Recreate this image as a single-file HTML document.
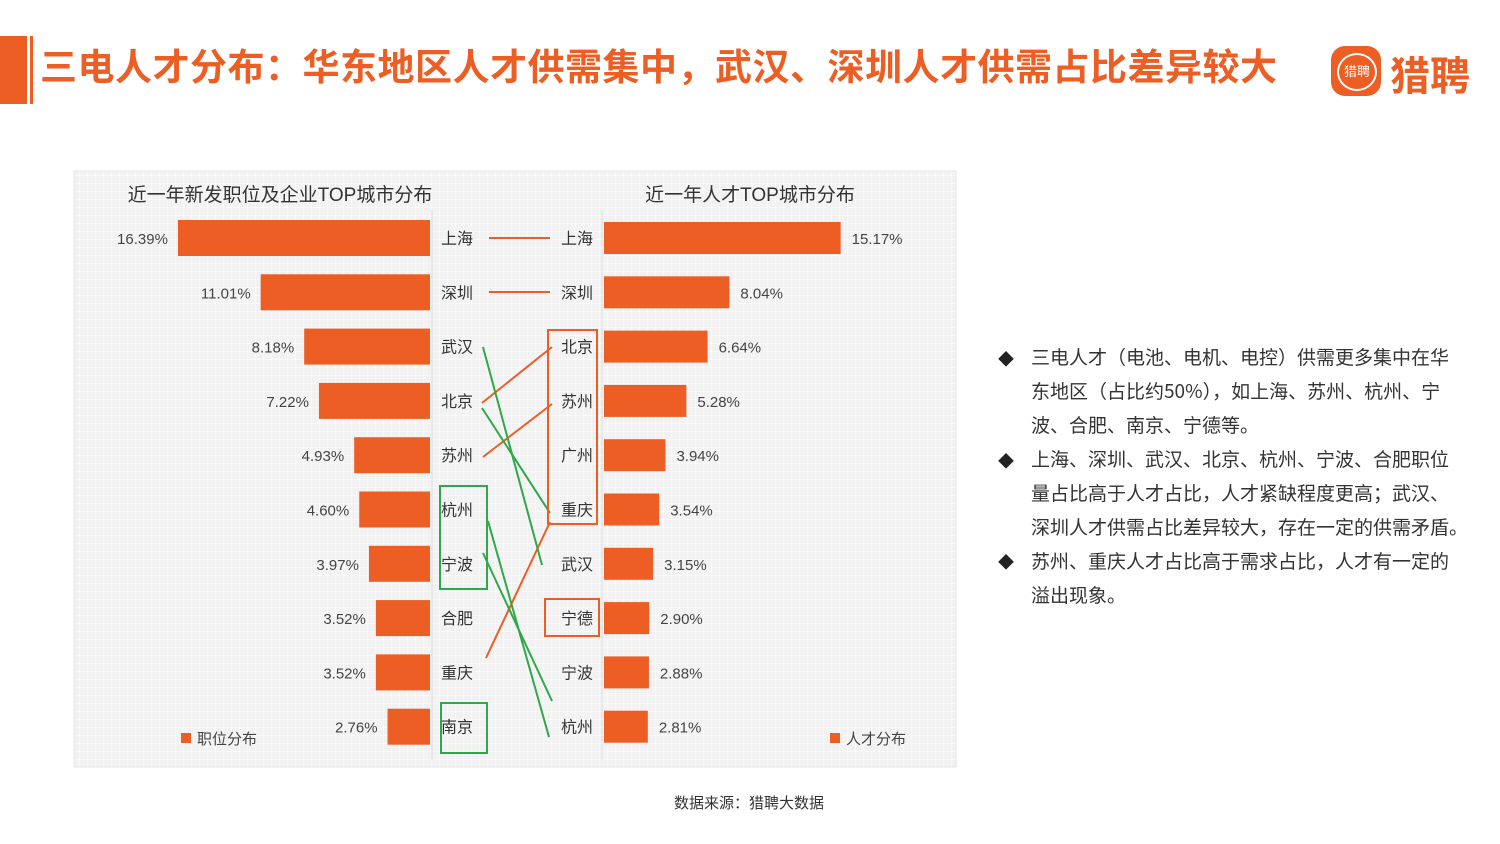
<!DOCTYPE html>
<html><head><meta charset="utf-8">
<style>
body{margin:0;width:1500px;height:844px;background:#fff;overflow:hidden;font-family:"Liberation Sans","Noto Sans CJK SC",sans-serif;position:relative}
.t{position:absolute}
#notes div{font-family:"Noto Sans CJK SC",sans-serif;font-size:19px;color:#333;line-height:34px;height:34px;white-space:nowrap;position:absolute;left:1031px}
.dia{position:absolute;left:998px;font-size:16px;color:#222}
</style></head><body>
<div class="t" style="left:0;top:36px;width:27px;height:68px;background:#ec5e24"></div>
<div class="t" style="left:30px;top:36px;width:3px;height:68px;background:#ec5e24"></div>
<div class="t" style="left:40px;top:37px;font-size:37px;font-weight:bold;color:#ec5e24;letter-spacing:0.5px;white-space:nowrap">三电人才分布：华东地区人才供需集中，武汉、深圳人才供需占比差异较大</div>
<div class="t" style="left:1331px;top:46px;width:50px;height:50px;border-radius:14px;background:#ec5e24"><div style="position:absolute;left:6px;top:7px;width:36px;height:34px;border:2px solid #fff;border-radius:50%;color:#fff;font-size:13px;line-height:34px;text-align:center">猎聘</div></div>
<div class="t" style="left:1390px;top:44px;font-size:40px;font-weight:bold;color:#ec5e24">猎聘</div>

<svg class="t" style="left:0;top:0" width="1500" height="844">
<defs><pattern id="g" width="8" height="8" patternUnits="userSpaceOnUse"><rect width="8" height="8" fill="#f2f2f2"/><path d="M8 0V8M0 8H8" stroke="#fff" stroke-width="1"/></pattern></defs>
<rect x="74" y="171" width="882" height="596" fill="url(#g)" stroke="#e6e6e6"/>
<line x1="432" y1="210" x2="432" y2="760" stroke="#ddd"/><line x1="602" y1="210" x2="602" y2="760" stroke="#ddd"/>
<text x="280" y="201" font-size="19" fill="#333" text-anchor="middle">近一年新发职位及企业TOP城市分布</text>
<text x="750" y="201" font-size="19" fill="#333" text-anchor="middle">近一年人才TOP城市分布</text>
<g id="bars"></g>
<rect x="181" y="733" width="10" height="10" fill="#ec5e24"/><text x="197" y="744" font-size="15" fill="#444">职位分布</text>
<rect x="830" y="733" width="10" height="10" fill="#ec5e24"/><text x="846" y="744" font-size="15" fill="#444">人才分布</text>
<g fill="none" stroke-width="2">
<line x1="489" y1="238" x2="550" y2="238" stroke="#ec5e24"/>
<line x1="489" y1="292" x2="550" y2="292" stroke="#ec5e24"/>
<line x1="482" y1="403" x2="552" y2="347" stroke="#ec5e24"/>
<line x1="483" y1="457" x2="552" y2="404" stroke="#ec5e24"/>
<line x1="486" y1="658" x2="550" y2="522" stroke="#ec5e24"/>
<line x1="483" y1="347" x2="542" y2="565" stroke="#2ea84a"/>
<line x1="482" y1="408" x2="550" y2="513" stroke="#2ea84a"/>
<line x1="488" y1="521" x2="549" y2="737" stroke="#2ea84a"/>
<line x1="483" y1="553" x2="552" y2="701" stroke="#2ea84a"/>
<rect x="548" y="330" width="49" height="194" stroke="#ec5e24"/>
<rect x="545" y="599" width="54" height="37" stroke="#ec5e24"/>
<rect x="440" y="486" width="47" height="103" stroke="#2ea84a"/>
<rect x="441" y="703" width="46" height="50" stroke="#2ea84a"/>
</g>
</svg>

<div class="t" style="left:674px;top:792px;font-size:15px;color:#333">数据来源：猎聘大数据</div>

<div id="notes">
<span class="dia" style="top:346px">◆</span><span class="dia" style="top:448px">◆</span><span class="dia" style="top:549px">◆</span>
<div style="top:340px">三电人才（电池、电机、电控）供需更多集中在华</div>
<div style="top:374px">东地区（占比约50%），如上海、苏州、杭州、宁</div>
<div style="top:408px">波、合肥、南京、宁德等。</div>
<div style="top:442px">上海、深圳、武汉、北京、杭州、宁波、合肥职位</div>
<div style="top:476px">量占比高于人才占比，人才紧缺程度更高；武汉、</div>
<div style="top:510px">深圳人才供需占比差异较大，存在一定的供需矛盾。</div>
<div style="top:544px">苏州、重庆人才占比高于需求占比，人才有一定的</div>
<div style="top:578px">溢出现象。</div>
</div>

<script>
const leftCities=["上海","深圳","武汉","北京","苏州","杭州","宁波","合肥","重庆","南京"];
const leftValues=[16.39,11.01,8.18,7.22,4.93,4.60,3.97,3.52,3.52,2.76];
const rightCities=["上海","深圳","北京","苏州","广州","重庆","武汉","宁德","宁波","杭州"];
const rightValues=[15.17,8.04,6.64,5.28,3.94,3.54,3.15,2.90,2.88,2.81];
const NS="http://www.w3.org/2000/svg";
const g=document.getElementById('bars');
const yC=i=>238+i*54.3;
const xL=v=>430-v*15.38;
const xR=v=>604+v*15.6;
function mk(tag,a){const e=document.createElementNS(NS,tag);for(const k in a)e.setAttribute(k,a[k]);g.appendChild(e);return e;}
leftValues.forEach((v,i)=>{
  const r=mk('rect',{x:xL(v),y:yC(i)-18,width:430-xL(v),height:36,fill:'#ec5e24'});
  
  
  const t=mk('text',{x:xL(v)-10,y:yC(i)+6,'font-size':15,fill:'#444','text-anchor':'end'});
  
  
  t.textContent=v.toFixed(2)+'%';
  const c=mk('text',{x:441,y:yC(i)+6,'font-size':16,fill:'#333'});
  
  
  c.textContent=leftCities[i];
});
rightValues.forEach((v,i)=>{
  const r=mk('rect',{x:604,y:yC(i)-16,width:xR(v)-604,height:32,fill:'#ec5e24'});
  
  
  const t=mk('text',{x:xR(v)+11,y:yC(i)+6,'font-size':15,fill:'#444'});
  
  
  t.textContent=v.toFixed(2)+'%';
  const c=mk('text',{x:561,y:yC(i)+6,'font-size':16,fill:'#333'});
  
  
  c.textContent=rightCities[i];
});
</script>
</body></html>
